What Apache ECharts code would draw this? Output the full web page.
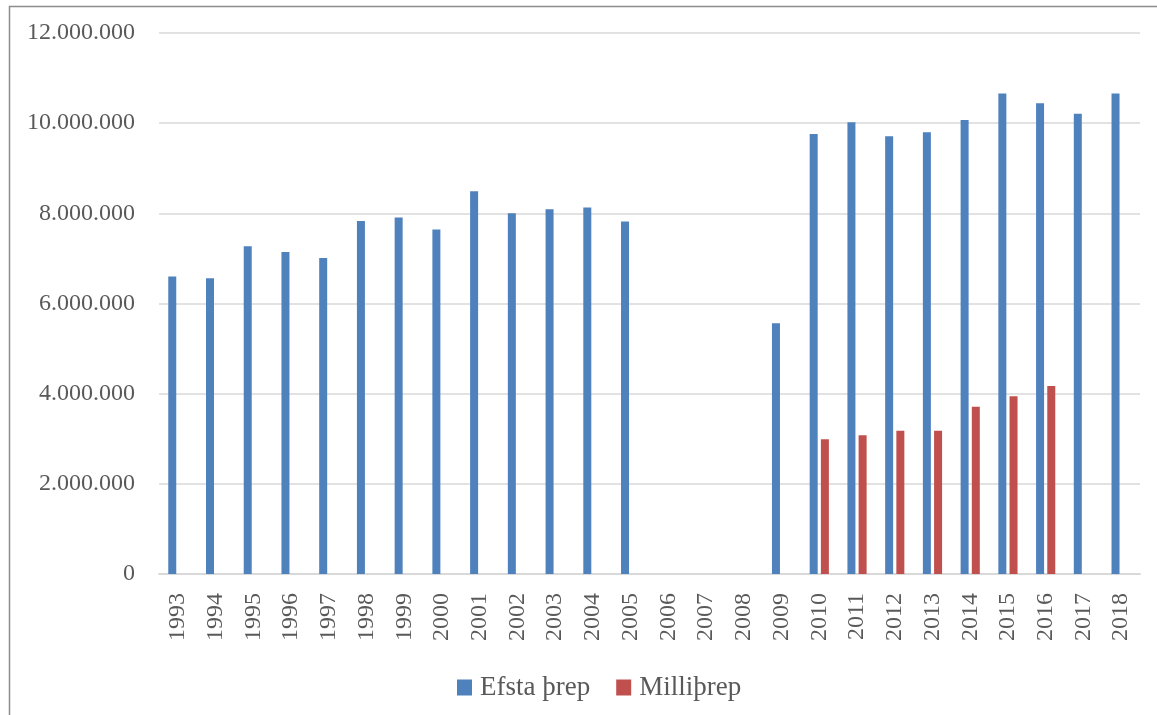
<!DOCTYPE html>
<html>
<head>
<meta charset="utf-8">
<title>Efsta þrep og Milliþrep</title>
<script src="https://cdn.jsdelivr.net/npm/echarts@6/dist/echarts.min.js"></script>
<style>
  html, body { margin: 0; padding: 0; background: #ffffff; }
  #chart { width: 1157px; height: 715px; }
</style>
</head>
<body>
<div id="chart"></div>
<script>
// Years on the category axis
const years = ['1993','1994','1995','1996','1997','1998','1999','2000','2001','2002','2003','2004','2005',
               '2006','2007','2008','2009','2010','2011','2012','2013','2014','2015','2016','2017','2018'];

// Efsta þrep (top bracket) per year; gaps where no value exists
const efstaThrep = [6600000, 6560000, 7270000, 7140000, 7010000, 7830000, 7910000, 7640000, 8490000,
                    8000000, 8090000, 8130000, 7820000, null, null, null, 5560000, 9760000, 10020000,
                    9710000, 9800000, 10070000, 10660000, 10440000, 10210000, 10660000];

// Milliþrep (middle bracket), only 2010–2016
const milliThrep = [null, null, null, null, null, null, null, null, null, null, null, null, null,
                    null, null, null, null, 2990000, 3080000, 3180000, 3180000, 3710000, 3940000,
                    4170000, null, null];

// Value-axis ticks
const yTicks = { min: 0, max: 12000000, interval: 2000000 };

const seriesNames = ['Efsta þrep', 'Milliþrep'];

const FONT = '"Liberation Serif", "DejaVu Serif", serif';
const TEXT = '#595959';

function dotted(v) {
  return String(v).replace(/\B(?=(\d{3})+(?!\d))/g, '.');
}

const chart = echarts.init(document.getElementById('chart'), null, { renderer: 'canvas' });

chart.setOption({
  backgroundColor: '#ffffff',
  animation: false,
  textStyle: { fontFamily: FONT },
  graphic: [{
    type: 'rect',
    shape: { x: 9.5, y: 6.5, width: 1200, height: 760 },
    style: { fill: 'none', stroke: '#8c8c8c', lineWidth: 1.5 },
    silent: true,
    z: 0
  }],
  grid: { left: 159, right: 17, top: 33, bottom: 141, containLabel: false },
  legend: {
    left: 452,
    top: 669,
    itemWidth: 15,
    itemHeight: 16,
    itemGap: 26,
    icon: 'rect',
    textStyle: { fontFamily: FONT, fontSize: 27, color: TEXT, padding: [0, 0, 0, 3] },
    data: seriesNames
  },
  xAxis: {
    type: 'category',
    data: years,
    axisLine: { lineStyle: { color: '#d9d9d9', width: 2 } },
    axisTick: { show: false },
    axisLabel: {
      rotate: 90,
      interval: 0,
      margin: 19,
      fontFamily: FONT,
      fontSize: 24,
      color: TEXT
    }
  },
  yAxis: {
    type: 'value',
    min: yTicks.min,
    max: yTicks.max,
    interval: yTicks.interval,
    axisLine: { show: false },
    axisTick: { show: false },
    splitLine: { lineStyle: { color: '#d9d9d9', width: 1.5 } },
    axisLabel: {
      margin: 24,
      fontFamily: FONT,
      fontSize: 24,
      color: TEXT,
      formatter: dotted
    }
  },
  series: [
    {
      name: seriesNames[0],
      type: 'bar',
      data: efstaThrep,
      barWidth: 8,
      barGap: '40%',
      itemStyle: { color: '#4f81bd' }
    },
    {
      name: seriesNames[1],
      type: 'bar',
      data: milliThrep,
      barWidth: 8,
      barGap: '40%',
      itemStyle: { color: '#c0504d' }
    }
  ]
});
</script>
</body>
</html>
